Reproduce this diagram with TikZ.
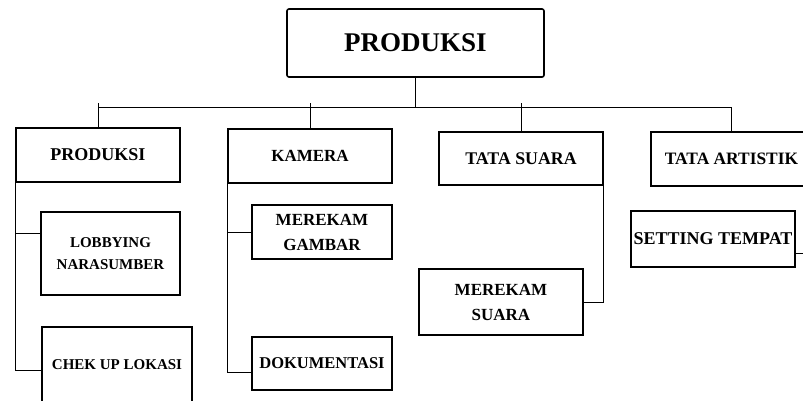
\documentclass[tikz,border=0pt]{standalone}
\usepackage{fontspec}
\setmainfont{Liberation Serif}
\begin{document}
\begin{tikzpicture}[x=1pt,y=-1pt,
  box/.style={draw, line width=1.2pt, inner sep=0pt, align=center, font=\bfseries},
  topbox/.style={box, line width=1.6pt, rounded corners=2pt},
  link/.style={line width=1pt}]
\useasboundingbox (0,0) rectangle (803,400);
% top
\node[topbox, minimum width=257pt, minimum height=68pt, font=\bfseries\fontsize{27}{30}\selectfont] (top) at (415.5,43) {PRODUKSI};
% level 1
\node[box, minimum width=164pt, minimum height=54pt, font=\bfseries\fontsize{18}{21}\selectfont] (p1) at (98,155) {PRODUKSI};
\node[box, minimum width=164pt, minimum height=54pt, font=\bfseries\fontsize{17}{20}\selectfont] (p2) at (310,156) {KAMERA};
\node[box, minimum width=164pt, minimum height=53pt, font=\bfseries\fontsize{17.8}{20}\selectfont] (p3) at (521,158.5) {TATA SUARA};
\node[box, minimum width=161pt, minimum height=54pt, font=\bfseries\fontsize{17.4}{20}\selectfont] (p4) at (731.5,159) {TATA ARTISTIK};
% level 2
\node[box, minimum width=139pt, minimum height=83pt, font=\bfseries\fontsize{15}{22}\selectfont] (c1) at (110.5,253.5) {LOBBYING\\NARASUMBER};
\node[box, minimum width=150pt, minimum height=75pt, font=\bfseries\fontsize{15}{18}\selectfont] (c2) at (117,364.5) {CHEK UP LOKASI};
\node[box, minimum width=140pt, minimum height=54pt, font=\bfseries\fontsize{17}{25}\selectfont] (k1) at (322,232) {MEREKAM\\GAMBAR};
\node[box, minimum width=140pt, minimum height=53pt, font=\bfseries\fontsize{16.5}{19}\selectfont] (k2) at (322,363.5) {DOKUMENTASI};
\node[box, minimum width=164pt, minimum height=66pt, font=\bfseries\fontsize{17}{25}\selectfont] (s1) at (501,302) {MEREKAM\\SUARA};
\node[box, minimum width=164pt, minimum height=56pt, font=\bfseries\fontsize{18}{21}\selectfont] (a1) at (713,239) {SETTING TEMPAT};
% connectors
\coordinate (j) at (415.5,107.5);
\coordinate (edge) at (803,253);
\draw[link] (top.south) -- (j);
\draw[link] (p1.north |- j) -- (p4.north |- j);
\draw[link] (p1.north) -- ++(0,-24);
\draw[link] (p2.north) -- ++(0,-25);
\draw[link] (p3.north) -- ++(0,-28);
\draw[link] (p4.north) -- (p4.north |- j);
\draw[link] (p1.south west) |- ([yshift=-5.5pt]c2.west);
\draw[link] (p1.south west |- c1.west) ++(0,-20.5) -- ([yshift=20.5pt]c1.west);
\draw[link] (p2.south west) |- ([yshift=-8.5pt]k2.west);
\draw[link] (p2.south west |- k1.west) -- (k1.west);
\draw[link] (p3.south east) |- (s1.east);
\draw[link] ([yshift=-14pt]a1.east) -- (edge);
\end{tikzpicture}
\end{document}
